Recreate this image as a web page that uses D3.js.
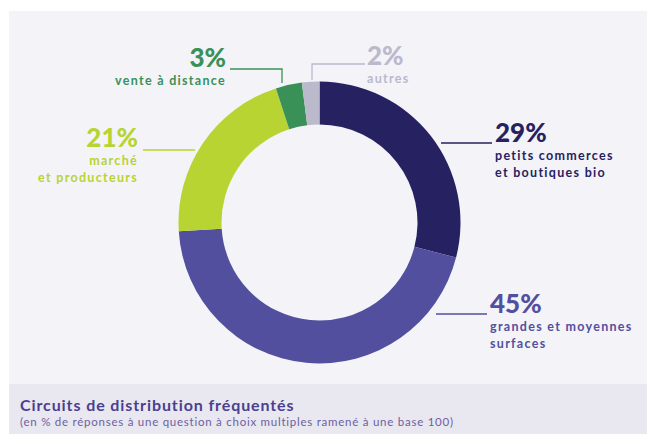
<!DOCTYPE html>
<html>
<head>
<meta charset="utf-8">
<script src="https://cdn.jsdelivr.net/npm/d3@7"></script>
<style>
  html, body { margin: 0; padding: 0; background: #fff; }
  svg { display: block; }
  text { font-family: Lato, "Open Sans", sans-serif; }
</style>
</head>
<body>
<div id="chart"></div>
<script>
  // Data (clockwise from 12 o'clock)
  var categories = ["petits commerces|et boutiques bio", "grandes et moyennes|surfaces", "marché|et producteurs", "vente à distance", "autres"];
  var values = [29, 45, 21, 3, 2];
  var colors = ["#262262", "#534f9f", "#b8d432", "#3a9158", "#bbb9cc"];
  var title = "Circuits de distribution fréquentés";
  var subtitle = "(en % de réponses à une question à choix multiples ramené à une base 100)";

  var width = 653, height = 434;
  var cx = 319.5, cy = 222.5, outerR = 141, innerR = 98;

  // label layout: anchor point of the number, text anchor, leader polyline
  var layout = [
    {x: 495, y: 142, anchor: "start", line: [[441, 143], [492, 143]]},
    {x: 490, y: 313, anchor: "start", line: [[436, 314], [487, 314]]},
    {x: 138, y: 147, anchor: "end", line: [[143, 150], [195, 150]]},
    {x: 226, y: 67, anchor: "end", line: [[230, 69], [282, 69], [282, 83]]},
    {x: 367, y: 65, anchor: "start", line: [[365, 64], [312, 64], [312, 80]]}
  ];

  var svg = d3.select("#chart").append("svg")
    .attr("width", width)
    .attr("height", height);

  // background panel and caption band
  svg.append("rect")
    .attr("x", 9).attr("y", 11)
    .attr("width", 638).attr("height", height - 11)
    .attr("fill", "#f3f3f8");
  svg.append("rect")
    .attr("x", 9).attr("y", 384)
    .attr("width", 638).attr("height", height - 384)
    .attr("fill", "#e9e7ef");

  var pie = d3.pie().sort(null).value(function(d) { return d; });
  var arc = d3.arc().innerRadius(innerR).outerRadius(outerR);

  var g = svg.append("g").attr("transform", "translate(" + cx + "," + cy + ")");
  g.selectAll("path")
    .data(pie(values))
    .enter().append("path")
    .attr("d", arc)
    .attr("fill", function(d, i) { return colors[i]; });

  // leader lines
  var line = d3.line();
  svg.selectAll(".leader")
    .data(layout)
    .enter().append("path")
    .attr("class", "leader")
    .attr("d", function(d) { return line(d.line); })
    .attr("fill", "none")
    .attr("stroke", function(d, i) { return colors[i]; })
    .attr("stroke-width", 1.3);

  // labels
  var labels = svg.selectAll(".lbl")
    .data(layout)
    .enter().append("g")
    .attr("class", "lbl");

  labels.append("text")
    .attr("x", function(d) { return d.x; })
    .attr("y", function(d) { return d.y; })
    .attr("text-anchor", function(d) { return d.anchor; })
    .attr("font-size", 26)
    .attr("font-weight", 900)
    .attr("fill", function(d, i) { return colors[i]; })
    .text(function(d, i) { return values[i] + "%"; });

  labels.each(function(d, i) {
    var lines = categories[i].split("|");
    var sel = d3.select(this);
    lines.forEach(function(t, j) {
      sel.append("text")
        .attr("x", d.x)
        .attr("y", d.y + 18 + j * 17)
        .attr("text-anchor", d.anchor)
        .attr("font-size", 12.5)
        .attr("font-weight", 700)
        .attr("letter-spacing", 1.3)
        .attr("fill", colors[i])
        .text(t);
    });
  });

  // caption
  svg.append("text")
    .attr("x", 20).attr("y", 411)
    .attr("font-size", 16)
    .attr("font-weight", 700)
    .attr("letter-spacing", 0.9)
    .attr("fill", "#4a3f91")
    .text(title);
  svg.append("text")
    .attr("x", 20).attr("y", 426)
    .attr("font-size", 11.5)
    .attr("fill", "#6c5fa3")
    .attr("letter-spacing", 0.75)
    .text(subtitle);
</script>
</body>
</html>
